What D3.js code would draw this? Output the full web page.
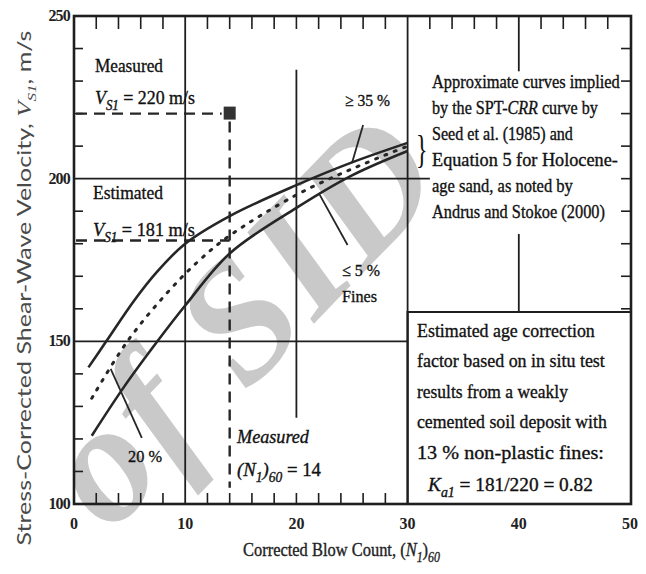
<!DOCTYPE html>
<html>
<head>
<meta charset="utf-8">
<script src="https://cdn.jsdelivr.net/npm/d3@7"></script>
<style>
  html, body { margin: 0; padding: 0; background: #fff; }
  svg { display: block; }
</style>
</head>
<body>
<svg id="chart" width="646" height="574"></svg>
<script>
// Corrected blow count (N1)60 vs. stress-corrected shear-wave velocity VS1 (m/s)
const xTicks = [0, 10, 20, 30, 40, 50];
const yTicks = [100, 150, 200, 250];

// Curve points [ (N1)60, VS1 ] for the three fines contents
const finesHigh = [[1.3, 142], [2.9, 150], [5.4, 162.5], [7.5, 171.5], [10, 180], [14, 188.5], [20, 198], [25, 205], [30, 211]];
const finesMid  = [[1.6, 132.5], [4.8, 150], [8.4, 165], [11.3, 175], [14, 182.5], [20, 195], [25, 203], [30, 210]];
const finesLow  = [[1.6, 121], [4.5, 136], [7.5, 150], [10, 161], [14, 177], [20, 191], [25, 201], [30, 208.5]];

// Measured and estimated values at the test site
const measuredN = 14;
const measuredVs = 220;
const estimatedVs = 181;

const svg = d3.select('#chart');
const W = 646, H = 574;
const pL = 74, pR = 631, pT = 16, pB = 504;

const x = d3.scaleLinear().domain([0, 50]).range([pL, pR - 1]);
const y = d3.scaleLinear().domain([100, 250]).range([pB, pT]);

const ink = '#1e1e1e';
const serif = '"Liberation Serif", "Times New Roman", serif';

svg.append('rect').attr('width', W).attr('height', H).attr('fill', '#fff');

// Watermark lettering behind the chart
svg.append('text')
  .attr('transform', 'translate(240,318) rotate(-46)')
  .attr('text-anchor', 'middle')
  .attr('dominant-baseline', 'central')
  .attr('font-family', serif)
  .attr('font-style', 'italic')
  .attr('font-weight', 'bold')
  .attr('font-size', 170)
  .attr('letter-spacing', 4)
  .attr('fill', '#c9c9c9')
  .text('of SID');

const g = svg.append('g');

// Grid lines (interrupted where annotations sit)
const gridV = [
  { n: 10, v0: 100, v1: 250 },
  { n: 20, v0: 126.5, v1: 233.5 },
  { n: 30, v0: 100, v1: 250 },
  { n: 40, v0: 233, v1: 250 },
  { n: 40, v0: 159, v1: 183 }
];
g.selectAll('line.gv').data(gridV).join('line')
  .attr('x1', d => x(d.n)).attr('x2', d => x(d.n))
  .attr('y1', d => y(d.v0)).attr('y2', d => y(d.v1))
  .attr('stroke', ink).attr('stroke-width', 1.8);

const gridH = [
  { v: 200, n0: 0, n1: 32 },
  { v: 150, n0: 0, n1: 30 }
];
g.selectAll('line.gh').data(gridH).join('line')
  .attr('x1', d => x(d.n0)).attr('x2', d => x(d.n1))
  .attr('y1', d => y(d.v)).attr('y2', d => y(d.v))
  .attr('stroke', ink).attr('stroke-width', 1.8);

// Ticks along the frame
const xMinor = d3.range(2, 50, 2).filter(n => n % 10 !== 0);
g.selectAll('line.tt').data(xMinor.concat([20])).join('line')
  .attr('x1', d => x(d)).attr('x2', d => x(d))
  .attr('y1', pT).attr('y2', pT + 13)
  .attr('stroke', ink).attr('stroke-width', 1.6);
g.selectAll('line.tb').data(xMinor.filter(n => n < 30).concat([20])).join('line')
  .attr('x1', d => x(d)).attr('x2', d => x(d))
  .attr('y1', pB).attr('y2', pB - 11)
  .attr('stroke', ink).attr('stroke-width', 1.6);
const yMinor = d3.range(110, 250, 10).filter(v => v % 50 !== 0);
g.selectAll('line.tl').data(yMinor).join('line')
  .attr('x1', pL).attr('x2', pL + 9)
  .attr('y1', d => y(d)).attr('y2', d => y(d))
  .attr('stroke', ink).attr('stroke-width', 1.6);
g.selectAll('line.tr').data(d3.range(160, 250, 10)).join('line')
  .attr('x1', pR).attr('x2', pR - 10)
  .attr('y1', d => y(d)).attr('y2', d => y(d))
  .attr('stroke', ink).attr('stroke-width', 1.6);

// Frame
g.append('rect')
  .attr('x', pL).attr('y', pT)
  .attr('width', pR - pL).attr('height', pB - pT)
  .attr('fill', 'none').attr('stroke', ink).attr('stroke-width', 2.6);

// Tick labels
svg.append('g').selectAll('text').data(xTicks).join('text')
  .attr('x', d => x(d)).attr('y', 529)
  .attr('text-anchor', 'middle')
  .attr('font-family', serif).attr('font-size', 16).attr('font-weight', 'bold')
  .attr('fill', '#222')
  .text(d => d);
svg.append('g').selectAll('text').data(yTicks).join('text')
  .attr('x', 70).attr('y', d => y(d) + 5)
  .attr('text-anchor', 'end')
  .attr('font-family', serif).attr('font-size', 16).attr('font-weight', 'bold')
  .attr('fill', '#222')
  .attr('letter-spacing', -0.8)
  .text(d => d);

// Curves
const line = d3.line().x(d => x(d[0])).y(d => y(d[1])).curve(d3.curveCatmullRom.alpha(0.5));
g.append('path').datum(finesHigh).attr('d', line)
  .attr('fill', 'none').attr('stroke', '#262626').attr('stroke-width', 2.6);
g.append('path').datum(finesLow).attr('d', line)
  .attr('fill', 'none').attr('stroke', '#262626').attr('stroke-width', 2.6);
g.append('path').datum(finesMid).attr('d', line)
  .attr('fill', 'none').attr('stroke', '#262626').attr('stroke-width', 3)
  .attr('stroke-linecap', 'round').attr('stroke-dasharray', '2,8');

// Measured / estimated guide lines
const dashed = { stroke: '#262626', 'stroke-width': 2.4, 'stroke-dasharray': '11,7' };
function dline(x1, y1, x2, y2) {
  const l = g.append('line').attr('x1', x1).attr('y1', y1).attr('x2', x2).attr('y2', y2);
  Object.entries(dashed).forEach(([k, v]) => l.attr(k, v));
  return l;
}
dline(x(0) + 2, y(measuredVs), x(measuredN) - 8, y(measuredVs));
dline(x(measuredN), y(measuredVs) + 8, x(measuredN), y(105));
dline(x(0) + 2, y(estimatedVs), x(measuredN), y(estimatedVs));

g.append('rect')
  .attr('x', x(measuredN) - 6).attr('y', y(measuredVs) - 7)
  .attr('width', 12).attr('height', 13)
  .attr('fill', '#333');

// Leader lines to the curves
const leaders = [
  [[25.0, 204.8], [26.0, 216.5]],
  [[22.1, 195], [24.6, 179.6]],
  [[3.3, 141.5], [6.1, 120.3]]
];
g.selectAll('line.ld').data(leaders).join('line')
  .attr('x1', d => x(d[0][0])).attr('y1', d => y(d[0][1]))
  .attr('x2', d => x(d[1][0])).attr('y2', d => y(d[1][1]))
  .attr('stroke', '#262626').attr('stroke-width', 1.8);

// Annotation box at lower right
g.append('path')
  .attr('d', `M${x(30)},${pB} V312 H${pR}`)
  .attr('fill', 'none').attr('stroke', ink).attr('stroke-width', 2.2);

// Rich text helper: segments {t, i (italic), sub (subscript)}
function rich(parent, px, py, segs, size, width, opts = {}) {
  const t = parent.append('text')
    .attr('x', px).attr('y', py)
    .attr('font-family', serif).attr('font-size', size)
    .attr('fill', opts.fill || '#111')
    .attr('stroke', opts.fill || '#111').attr('stroke-width', 0.35);
  let shifted = false;
  segs.forEach(s => {
    const sp = t.append('tspan').text(s.t);
    if (s.i) sp.attr('font-style', 'italic');
    if (s.sub && !shifted) { sp.attr('dy', size * 0.3).attr('font-size', size * 0.72); shifted = true; }
    else if (s.sub) { sp.attr('font-size', size * 0.72); }
    else if (!s.sub && shifted) { sp.attr('dy', -size * 0.3); shifted = false; }
  });
  if (width) {
    const w = t.node().getComputedTextLength();
    const k = width / w;
    t.attr('transform', `translate(${px},0) scale(${k},1) translate(${-px},0)`);
  }
  return t;
}

const ann = svg.append('g');
const plain = s => [{ t: s }];

rich(ann, 95, 72, plain('Measured'), 19, 68);
rich(ann, 95, 104, [{ t: 'V', i: true }, { t: 'S1', i: true, sub: true }, { t: ' = 220 m/s' }], 19, 100);
rich(ann, 93, 199, plain('Estimated'), 19, 70);
rich(ann, 93, 236, [{ t: 'V', i: true }, { t: 'S1', i: true, sub: true }, { t: ' = 181 m/s' }], 19, 102);

rich(ann, 345, 106, plain('≥ 35 %'), 17, 45);
rich(ann, 342, 276, plain('≤ 5 %'), 17, 38);
rich(ann, 342, 302, plain('Fines'), 17, 35);
rich(ann, 128, 462, plain('20 %'), 17, 34);

rich(ann, 237, 443, [{ t: 'Measured', i: true }], 19, 72);
rich(ann, 237, 476, [{ t: '(', i: true }, { t: 'N', i: true }, { t: '1', i: true, sub: true }, { t: ')', i: true }, { t: '60', i: true, sub: true }, { t: ' = 14' }], 19, 84);

// Source note with brace
const note = [
  { segs: plain('Approximate curves implied'), w: 188 },
  { segs: [{ t: 'by the SPT-' }, { t: 'CRR', i: true }, { t: ' curve by' }], w: 166 },
  { segs: plain('Seed et al. (1985) and'), w: 141 },
  { segs: plain('Equation 5 for Holocene-'), w: 186 },
  { segs: plain('age sand, as noted by'), w: 141 },
  { segs: plain('Andrus and Stokoe (2000)'), w: 173 }
];
note.forEach((d, i) => rich(ann, 432, 88 + i * 26, d.segs, 18, d.w));
ann.append('text')
  .attr('x', 416).attr('y', 163)
  .attr('font-family', serif).attr('font-size', 40)
  .attr('fill', '#111')
  .attr('transform', 'translate(416,0) scale(0.6,1) translate(-416,0)')
  .text('}');

const boxNote = [
  { segs: plain('Estimated age correction'), w: 178 },
  { segs: plain('factor based on in situ test'), w: 188 },
  { segs: plain('results from a weakly'), w: 151 },
  { segs: plain('cemented soil deposit with'), w: 190 },
  { segs: plain('13 % non-plastic fines:'), w: 187 }
];
boxNote.forEach((d, i) => rich(ann, 417, 337 + i * 30.5, d.segs, 19, d.w));
rich(ann, 428, 491, [{ t: 'K', i: true }, { t: 'a1', i: true, sub: true }, { t: ' = 181/220 = 0.82' }], 19, 165);

// Axis titles
rich(ann, 243, 556, [{ t: 'Corrected Blow Count, (' }, { t: 'N', i: true }, { t: '1', i: true, sub: true }, { t: ')' }, { t: '60', i: true, sub: true }], 19, 197, { fill: '#222' });

const yt = svg.append('text')
  .attr('font-family', 'Lato, "Open Sans", sans-serif')
  .attr('font-size', 19)
  .attr('fill', '#4a4a4a')
  .attr('text-anchor', 'middle');
yt.append('tspan').text('Stress-Corrected Shear-Wave Velocity, ');
yt.append('tspan').text('V').attr('font-style', 'italic').attr('font-family', serif);
yt.append('tspan').text('S1').attr('font-style', 'italic').attr('font-size', 13).attr('dy', 5).attr('font-family', serif);
yt.append('tspan').text(', m/s').attr('dy', -5);
{
  const w = yt.node().getComputedTextLength();
  yt.attr('transform', `translate(31,288) rotate(-90) scale(${515 / w},1)`);
}
</script>
</body>
</html>
